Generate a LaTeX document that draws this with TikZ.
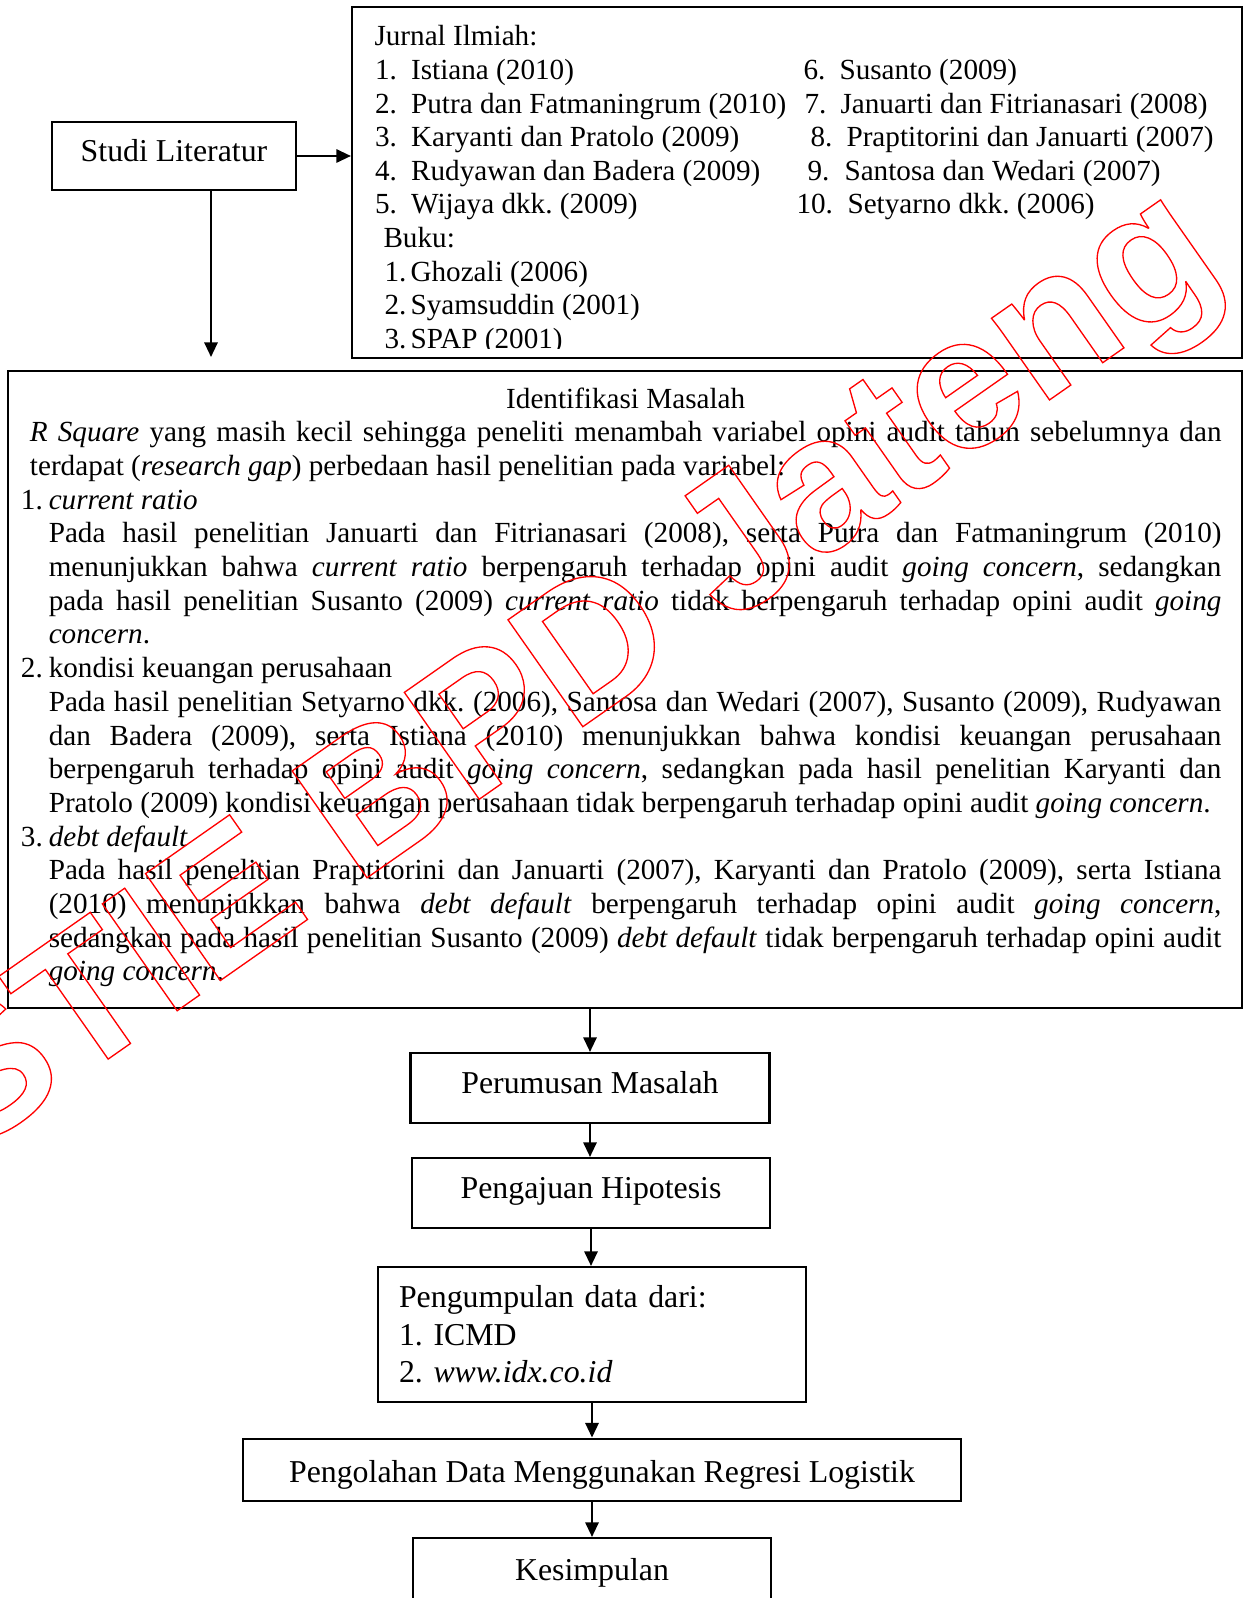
\documentclass[tikz,border=0pt]{standalone}
\usepackage{fontspec}
\setmainfont{Liberation Serif}
\newfontfamily\wmfont{Liberation Sans}
\usetikzlibrary{arrows.meta}

% one pixel of the page in TeX points
\newlength{\pixel}
\setlength{\pixel}{0.377pt}

\begin{document}
\frenchspacing
\begin{tikzpicture}[x=0.377pt, y=-0.377pt,
		every node/.style={font=\fontsize{12}{12.7}\selectfont},
		kecil/.style={font=\fontsize{11}{12.7}\selectfont},
		kotak/.style={draw, line width=0.8pt, inner sep=0pt},
		satubaris/.style={kotak, text height=8.8pt, text depth=4.4pt},
		teks/.style={kecil, inner sep=0pt, anchor=base west},
		panah/.style={line width=0.8pt, -{Triangle[length=5.5pt, width=5pt]}}]
		\useasboundingbox (0,0) rectangle (1248,1598);

		% STUDI LITERATUR
		\node[satubaris, minimum width=244\pixel, minimum height=68\pixel] (studi) at (174,156) {Studi Literatur};

		% Referensi (jurnal dan buku)
		\node[kotak, minimum width=890\pixel, minimum height=351\pixel] (jurnal) at (797,182.5) {};
		\begin{scope}
			\clip (jurnal.north west) rectangle ([yshift=4pt]jurnal.south east);
			\node[teks] (judulj) at (374,46) {Jurnal Ilmiah:};
			% id / x nomor / x teks / baris / nama
			\foreach \i/\nx/\tx/\row/\nm in {1/374.5/410.6/1/Istiana (2010),
					2/374.5/410.6/2/Putra dan Fatmaningrum (2010),
					3/374.5/410.6/3/Karyanti dan Pratolo (2009),
					4/374.5/410.6/4/Rudyawan dan Badera (2009),
					5/374.5/410.6/5/Wijaya dkk. (2009),
					6/803/839/1/Susanto (2009),
					7/804/840/2/Januarti dan Fitrianasari (2008),
					8/810/846/3/Praptitorini dan Januarti (2007),
					9/807/844/4/Santosa dan Wedari (2007),
					10/796/847/5/Setyarno dkk. (2006)}{
				\node[teks] (no\i) at (\nx,46+33.6*\row) {\i.};
				\node[teks] (ref\i) at (\tx,46+33.6*\row) {\nm};
			}
			\node[teks] (judulb) at (383,46+33.6*6) {Buku:};
			\foreach \i/\nm in {1/Ghozali (2006), 2/Syamsuddin (2001), 3/SPAP (2001)}{
				\node[teks] (nob\i) at (384,46+33.6*6+33.6*\i) {\i.};
				\node[teks] (buku\i) at (410,46+33.6*6+33.6*\i) {\nm};
			}
		\end{scope}

		% IDENTIFIKASI MASALAH
		\node[kotak, minimum width=1234\pixel, minimum height=637\pixel] (masalah) at (625,689.5) {};
		\node[kecil, inner sep=0pt, anchor=north west, text width=452.6pt, align=justify] (isimasalah) at (20.4,387.1) {%
			\parindent=0pt \hyphenpenalty=10000 \tolerance=9000
			{\centering\hspace*{3.4pt}Identifikasi Masalah\par}
			{\leftskip=3.4pt \textit{R Square} yang masih kecil sehingga peneliti menambah variabel opini audit tahun sebelumnya dan\linebreak
				terdapat (\textit{research gap}) perbedaan hasil penelitian pada variabel:\par}
			\makebox[10.5pt][l]{1.}\textit{current ratio}\par
			{\leftskip=10.5pt Pada hasil penelitian Januarti dan Fitrianasari (2008), serta Putra dan Fatmaningrum (2010)\linebreak
				menunjukkan bahwa \textit{current ratio} berpengaruh terhadap opini audit \textit{going concern}, sedangkan\linebreak
				pada hasil penelitian Susanto (2009) \textit{current ratio} tidak berpengaruh terhadap opini audit \textit{going}\linebreak
				\textit{concern}.\par}
			\makebox[10.5pt][l]{2.}kondisi keuangan perusahaan\par
			{\leftskip=10.5pt Pada hasil penelitian Setyarno dkk. (2006), Santosa dan Wedari (2007), Susanto (2009), Rudyawan\linebreak
				dan Badera (2009), serta Istiana (2010) menunjukkan bahwa kondisi keuangan perusahaan\linebreak
				berpengaruh terhadap opini audit \textit{going concern}, sedangkan pada hasil penelitian Karyanti dan\linebreak
				Pratolo (2009) kondisi keuangan perusahaan tidak berpengaruh terhadap opini audit \textit{going concern}.\par}
			\makebox[10.5pt][l]{3.}\textit{debt default}\par
			{\leftskip=10.5pt Pada hasil penelitian Praptitorini dan Januarti (2007), Karyanti dan Pratolo (2009), serta Istiana\linebreak
				(2010) menunjukkan bahwa \textit{debt default} berpengaruh terhadap opini audit \textit{going concern},\linebreak
				sedangkan pada hasil penelitian Susanto (2009) \textit{debt default} tidak berpengaruh terhadap opini audit\linebreak
				\textit{going concern}.\par}
		};

		% Alur penelitian
		\node[satubaris, minimum width=359\pixel, minimum height=70\pixel] (rumusan) at (590,1088) {Perumusan Masalah};
		\node[satubaris, minimum width=358\pixel, minimum height=70\pixel] (hipotesis) at (591,1193) {Pengajuan Hipotesis};
		\node[kotak, minimum width=428\pixel, minimum height=135\pixel, text width=145.5pt, align=left,
			font=\fontsize{12}{14.1}\selectfont] (data) at (592,1334.5) {Pengumpulan data dari:\\1. ICMD\\2. \textit{www.idx.co.id}};
		\node[satubaris, minimum width=718\pixel, minimum height=62\pixel, text height=11pt, text depth=1.6pt] (olah) at (602,1469.6)
			{Pengolahan Data Menggunakan Regresi Logistik};
		\node[satubaris, minimum width=358\pixel, minimum height=70\pixel, text height=9.6pt, text depth=3.6pt] (simpulan) at (592,1573) {Kesimpulan};

		% Panah
		\coordinate (ujung) at (211,357);
		\draw[panah] (studi.east) -- (studi.east -| jurnal.west);
		\draw[panah] (studi.south -| ujung) -- (ujung);
		\draw[panah] (masalah.south -| rumusan.north) -- (rumusan.north);
		\draw[panah] (rumusan.south) -- (rumusan.south |- hipotesis.north);
		\draw[panah] (hipotesis.south) -- (hipotesis.south |- data.north);
		\draw[panah] (data.south) -- (data.south |- olah.north);
		\draw[panah] (olah.south -| simpulan.north) -- (simpulan.north);

		% Cap air
		\node[text=red, inner sep=0pt, rotate=35, font=\fontsize{71.5}{71.5}\selectfont\wmfont\bfseries] (cap) at (572,678)
			{\special{pdf:literal direct 0.5 w 1 Tr}STIE BPD Jateng\special{pdf:literal direct 0 Tr}};
\end{tikzpicture}
\end{document}
